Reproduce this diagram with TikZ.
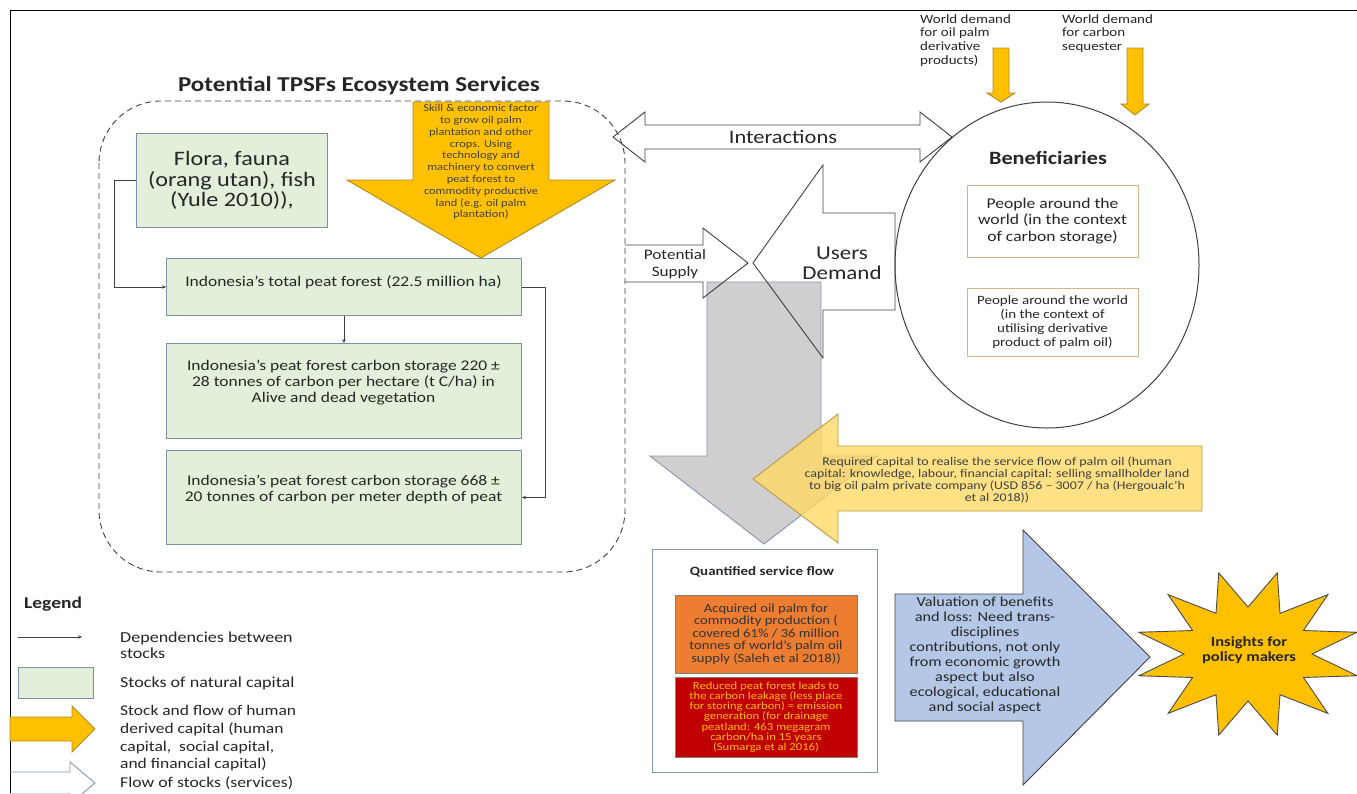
\documentclass[tikz,border=0pt]{standalone}
\usepackage{fontspec}
\setmainfont{Carlito}[FakeStretch=1.18]
\usetikzlibrary{arrows.meta,shapes.geometric,calc}
\definecolor{gfill}{HTML}{E2EFDA}
\definecolor{gborder}{HTML}{7F8FA6}
\definecolor{gold}{HTML}{FFC000}
\definecolor{goldborder}{HTML}{B08A1E}
\definecolor{grayfill}{HTML}{D0CECE}
\definecolor{grayborder}{HTML}{8497B0}
\definecolor{ylw}{HTML}{FFD966}
\definecolor{ylwborder}{HTML}{B89B40}
\definecolor{bluefill}{HTML}{B4C7E7}
\definecolor{orangefill}{HTML}{ED7D31}
\definecolor{redfill}{HTML}{C00000}
\definecolor{tanborder}{HTML}{D9B58C}
\definecolor{txtc}{HTML}{262626}
\definecolor{darkline}{HTML}{404040}
\newcommand\fsz[2]{\fontsize{#1}{#2}\selectfont}
\begin{document}
\begin{tikzpicture}[x=1pt,y=-1pt,
  txt/.style={inner sep=0pt, align=center, text=txtc},
  gbox/.style={draw=gborder, fill=gfill, line width=0.9pt},
  dep/.style={draw=darkline, line width=0.6pt, -{Stealth[length=4pt,width=3.5pt]}},
  flowarrow/.style={draw=darkline, line width=0.9pt},
  goldarrow/.style={draw=goldborder, fill=gold, line width=0.9pt},
  tanbox/.style={draw=tanborder, line width=0.9pt, fill=white},
]
\useasboundingbox (0,0) rectangle (1357,793);
\clip (0,0) rectangle (1357,793);
% frame
\draw[line width=0.8pt, black] (10,793) -- (10,10) -- (1357,10);

% title and dashed region
\node[txt, font=\bfseries\fsz{21.2}{24}] (title) at (359,86) {Potential TPSFs Ecosystem Services};
\draw[darkline, line width=0.9pt, dash pattern=on 6pt off 4pt, rounded corners=62pt] (99,101) rectangle (625,572);

% green stock boxes
\node[gbox, txt, minimum width=191pt, minimum height=94pt, anchor=north west, font=\fsz{20.5}{20.5}] (flora) at (136,133) {Flora, fauna\\(orang utan), fish\\(Yule 2010)),};
\node[gbox, minimum width=355pt, minimum height=57pt, anchor=north west] (tpf) at (166,258) {};
\node[txt, font=\fsz{14.8}{16}] (tpft) at (343.5,282) {Indonesia’s total peat forest (22.5 million ha)};
\node[gbox, minimum width=355pt, minimum height=95pt, anchor=north west] (cs1) at (166,343) {};
\node[txt, font=\fsz{14.8}{16}] (cs1t) at (343.5,383) {Indonesia’s peat forest carbon storage 220 ±\\28 tonnes of carbon per hectare (t C/ha) in\\Alive and dead vegetation};
\node[gbox, minimum width=355pt, minimum height=94pt, anchor=north west] (cs2) at (166,450) {};
\node[txt, font=\fsz{14.8}{16}] (cs2t) at (343.5,489) {Indonesia’s peat forest carbon storage 668 ±\\20 tonnes of carbon per meter depth of peat};

\draw[dep] (flora.west) -- ++(-22,0) |- (tpf.west);
\draw[dep] (tpf.south) -- (cs1.north);
\draw[dep] (tpf.east) -- ++(23,0) |- (cs2.east);

% big gold arrow
\draw[goldarrow] (413,102) -- (549,102) -- (549,180) -- (615,180) -- (481,258) -- (347,180) -- (413,180) -- cycle;
\node[txt, text=darkline, font=\fsz{10.5}{11.8}] (skill) at (481,162) {Skill \& economic factor\\to grow oil palm\\plantation and other\\crops. Using\\technology and\\machinery to convert\\peat forest to\\commodity productive\\land (e.g. oil palm\\plantation)};

% gray down arrow
\draw[draw=grayborder, fill=grayfill, line width=0.9pt] (707,282) -- (821,282) -- (821,456) -- (878,456) -- (764,544) -- (650,456) -- (707,456) -- cycle;

% interactions
\draw[flowarrow] (613,137) -- (645,112) -- (645,125) -- (920,125) -- (920,112) -- (952,137) -- (920,162) -- (920,149) -- (645,149) -- (645,162) -- cycle;
\node[txt, font=\fsz{19}{20}] (inter) at (783,137) {Interactions};

% potential supply
\draw[flowarrow] (625,245) -- (703,245) -- (703,228) -- (748,263) -- (703,298) -- (703,282) -- (625,282);
\node[txt, font=\fsz{14.5}{17}] (supply) at (675,264) {Potential\\Supply};

% users demand
\draw[flowarrow] (753,263) -- (823,165) -- (823,213) -- (895,213) -- (895,310) -- (823,310) -- (823,358) -- cycle;
\node[txt, font=\fsz{19.5}{20}] (demand) at (842,263) {Users\\Demand};

% beneficiaries
\node[draw=darkline, line width=1pt, ellipse, minimum width=304pt, minimum height=326pt, inner sep=0pt] (ben) at (1047,265) {};
\node[txt, font=\bfseries\fsz{18.8}{20}] (bent) at (1048,158) {Beneficiaries};
\node[tanbox, txt, minimum width=171pt, minimum height=72pt, font=\fsz{14.9}{16.5}] (ben1) at (1052.5,221) {People around the\\world (in the context\\of carbon storage)};
\node[tanbox, txt, minimum width=171pt, minimum height=68pt, font=\fsz{12.7}{14}] (ben2) at (1052.5,322) {People around the world\\(in the context of\\utilising derivative\\product of palm oil)};

% world demand
\node[txt, align=left, anchor=north west, font=\fsz{12.7}{13.7}] (wd1) at (920,14) {World demand\\for oil palm\\derivative\\products)};
\node[txt, align=left, anchor=north west, font=\fsz{12.7}{13.7}] (wd2) at (1062,14) {World demand\\for carbon\\sequester};
\draw[goldarrow] (993,48) -- (1009,48) -- (1009,93) -- (1015,93) -- (1001,102) -- (987,93) -- (993,93) -- cycle;
\draw[goldarrow] (1127,48) -- (1143,48) -- (1143,104) -- (1149,104) -- (1135,115) -- (1121,104) -- (1127,104) -- cycle;

% yellow required capital arrow
\draw[draw=ylwborder, fill=ylw, fill opacity=0.8, line width=0.9pt] (753,479) -- (838,414) -- (838,446) -- (1202,446) -- (1202,511) -- (838,511) -- (838,543) -- cycle;
\node[txt, text=darkline, font=\fsz{11.8}{11.8}] (req) at (997,480) {Required capital to realise the service flow of palm oil (human\\capital: knowledge, labour, financial capital: selling smallholder land\\to big oil palm private company (USD 856 – 3007 / ha (Hergoualc’h\\et al 2018))};

% quantified service flow
\node[draw=grayborder, line width=0.9pt, minimum width=225pt, minimum height=223pt, inner sep=0pt] (qsf) at (764.5,660.5) {};
\node[txt, font=\bfseries\fsz{12.7}{13}] (qsft) at (762,572) {Quantified service flow};
\node[draw=gray, fill=orangefill, txt, text=black!80, line width=0.6pt, minimum width=182pt, minimum height=78pt, font=\fsz{12.4}{12.5}] (acq) at (766,634) {Acquired oil palm for\\commodity production (\\covered 61\% / 36 million\\tonnes of world’s palm oil\\supply (Saleh et al 2018))};
\node[draw=gray, fill=redfill, txt, text=gold, line width=0.6pt, minimum width=182pt, minimum height=80pt, font=\fsz{10.7}{10.2}] (red) at (766,717) {Reduced peat forest leads to\\the carbon leakage (less place\\for storing carbon) = emission\\generation (for drainage\\peatland: 463 megagram\\carbon/ha in 15 years\\(Sumarga et al 2016)};

% blue valuation arrow
\draw[draw=darkline, fill=bluefill, line width=0.9pt] (895,594) -- (1023,594) -- (1023,530) -- (1150,657) -- (1023,785) -- (1023,721) -- (895,721) -- cycle;
\node[txt, font=\fsz{13.8}{15}] (val) at (985,655) {Valuation of benefits\\and loss: Need trans-\\disciplines\\contributions, not only\\from economic growth\\aspect but also\\ecological, educational\\and social aspect};

% star
\coordinate (sc) at (1248,654);
\draw[draw=black!70, fill=gold, line width=0.9pt] ($(sc)+(15:113pt and -84pt)$)
  \foreach \a in {30,60,...,330} {
    -- ($(sc)+(\a:64pt and -47pt)$) -- ($(sc)+(\a+15:113pt and -84pt)$)
  } -- ($(sc)+(0:64pt and -47pt)$) -- cycle;
\node[txt, font=\bfseries\fsz{14}{15}] (ins) at (1249,650) {Insights for\\policy makers};

% legend
\node[txt, font=\bfseries\fsz{16.5}{18}, anchor=west] (leg) at (24,604) {Legend};
\coordinate (l1a) at (18,637);
\coordinate (l1b) at (82,637);
\draw[dep] (l1a) -- (l1b);
\node[txt, align=left, anchor=west, font=\fsz{15.3}{16}] (l1t) at (120,645) {Dependencies between\\stocks};
\node[gbox, minimum width=75pt, minimum height=31pt, anchor=north west] (l2) at (18,667) {};
\node[txt, anchor=west, font=\fsz{15.3}{16}] (l2t) at (120,683) {Stocks of natural capital};
\draw[goldarrow] (10,717) -- (72,717) -- (72,706) -- (95,729) -- (72,752) -- (72,741) -- (10,741) -- cycle;
\node[txt, align=left, anchor=north west, font=\fsz{14.8}{17.8}] (l3t) at (120,705) {Stock and flow of human\\derived capital (human\\capital,\ \ social capital,\\and financial capital)};
\draw[draw=grayborder, line width=0.9pt] (10,772) -- (70,772) -- (70,762) -- (95,783) -- (70,804) -- (70,794) -- (10,794);
\node[txt, anchor=west, font=\fsz{15}{16}] (l4t) at (120,783) {Flow of stocks (services)};
\end{tikzpicture}
\end{document}
